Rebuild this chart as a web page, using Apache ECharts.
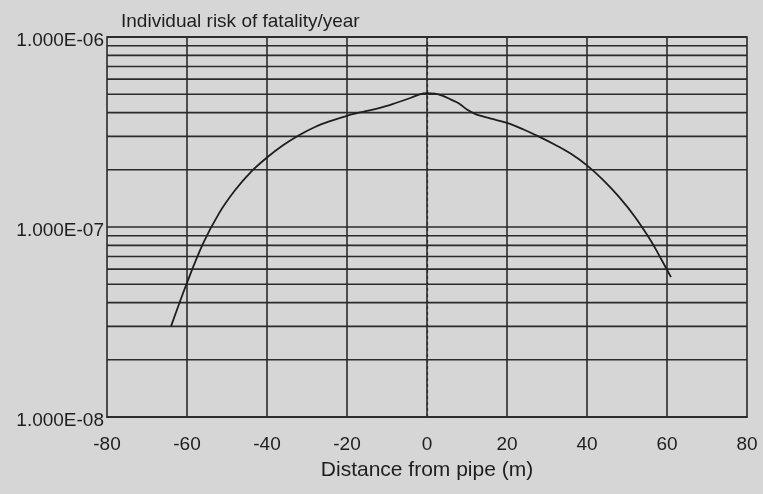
<!DOCTYPE html>
<html>
<head>
<meta charset="utf-8">
<script src="https://cdn.jsdelivr.net/npm/echarts@6/dist/echarts.min.js"></script>
<style>
html,body{margin:0;padding:0;background:#d6d6d6;}
#c{width:763px;height:494px;}
</style>
</head>
<body>
<div id="c"></div>
<script>
// Data
const distances = [-64, -60, -56, -52, -48, -44, -40, -36, -32, -28, -24, -20, -16, -12, -8, -4, -2, 0, 2, 4, 6, 8, 10, 12, 14, 16, 20, 24, 28, 32, 36, 40, 44, 48, 52, 56, 58, 61];
const risk = [3.0e-8, 5.09e-8, 8.17e-8, 1.18e-7, 1.56e-7, 1.95e-7, 2.32e-7, 2.69e-7, 3.04e-7, 3.36e-7, 3.62e-7, 3.85e-7, 4.04e-7, 4.22e-7, 4.48e-7, 4.79e-7, 4.98e-7, 5.06e-7, 5.04e-7, 4.9e-7, 4.68e-7, 4.47e-7, 4.15e-7, 3.94e-7, 3.82e-7, 3.72e-7, 3.53e-7, 3.27e-7, 2.99e-7, 2.71e-7, 2.43e-7, 2.11e-7, 1.77e-7, 1.44e-7, 1.13e-7, 8.45e-8, 7.11e-8, 5.45e-8];
const xTicks = [-80, -60, -40, -20, 0, 20, 40, 60, 80];
const xGridSolid = [-60, -40, -20, 20, 40, 60];
const xGridDashed = [0];
const yMinorGrid = [2e-8, 3e-8, 4e-8, 5e-8, 6e-8, 7e-8, 8e-8, 9e-8, 2e-7, 3e-7, 4e-7, 5e-7, 6e-7, 7e-7, 8e-7, 9e-7];

const gridColor = '#2b2b2b';
const textColor = '#1e1e1e';
const font = 'Liberation Sans, Arial, sans-serif';

const chart = echarts.init(document.getElementById('c'));

const gridSeries = yMinorGrid.map(v => ({
  type: 'line', data: [[-80, v], [80, v]], showSymbol: false, silent: true,
  lineStyle: { color: gridColor, width: 1.6 }, z: 2
}));

chart.setOption({
  backgroundColor: '#d6d6d6',
  animation: false,
  title: {
    text: 'Individual risk of fatality/year', left: 116, top: 7,
    textStyle: { fontFamily: font, fontSize: 19, fontWeight: 'normal', color: textColor }
  },
  grid: { left: 107, right: 16, top: 37, bottom: 77, show: true, borderColor: gridColor, borderWidth: 1.6, backgroundColor: 'transparent' },
  xAxis: {
    type: 'value', min: -80, max: 80, interval: 20,
    name: 'Distance from pipe (m)', nameLocation: 'middle', nameGap: 43,
    nameTextStyle: { fontFamily: font, fontSize: 21, color: textColor },
    axisLine: { show: true, lineStyle: { color: gridColor, width: 1.6 } },
    axisTick: { show: false },
    splitLine: { show: false },
    axisLabel: { fontFamily: font, fontSize: 19, color: textColor, margin: 18,
      formatter: v => xTicks.includes(v) ? String(v) : '' }
  },
  yAxis: {
    type: 'log', logBase: 10, min: 1e-8, max: 1e-6,
    axisLine: { show: true, lineStyle: { color: gridColor, width: 1.6 } },
    axisTick: { show: false },
    splitLine: { show: true, lineStyle: { color: gridColor, width: 1.6 } },
    axisLabel: { fontFamily: font, fontSize: 19, color: textColor, margin: 3,
      verticalAlign: 'top', padding: [-6, 0, 0, 0],
      formatter: v => {
        const e = Math.round(Math.log10(v));
        return '1.000E-' + String(-e).padStart(2, '0');
      } }
  },
  series: gridSeries.concat([{
    type: 'line',
    data: distances.map((d, i) => [d, risk[i]]),
    smooth: 0.35,
    showSymbol: false,
    lineStyle: { color: textColor, width: 1.8 },
    z: 5,
    markLine: {
      silent: true, symbol: 'none', label: { show: false },
      lineStyle: { color: gridColor, width: 1.6 },
      data: xGridSolid.map(v => ({ xAxis: v, lineStyle: { type: 'solid' } }))
        .concat(xGridDashed.map(v => ({ xAxis: v, lineStyle: { type: [3, 3], width: 1.2 } })))
    }
  }])
});
</script>
</body>
</html>
